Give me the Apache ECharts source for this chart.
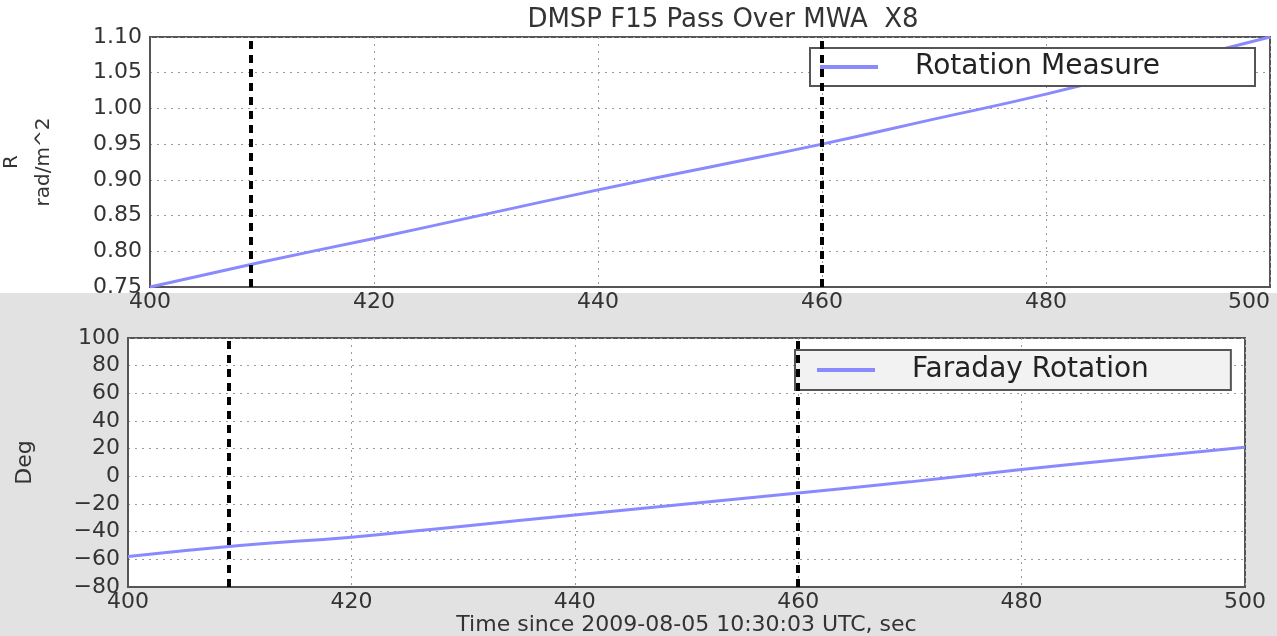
<!DOCTYPE html>
<html>
<head>
<meta charset="utf-8">
<script src="https://cdn.jsdelivr.net/npm/echarts@6/dist/echarts.min.js"></script>
<style>
html,body{margin:0;padding:0;background:#fff;}
#c{width:1277px;height:636px;}
</style>
</head>
<body>
<div id="c"></div>
<script>
// Data
const times = [400, 410, 420, 430, 440, 450, 460, 470, 480, 490, 500];
const rotationMeasure = [0.75, 0.785, 0.818, 0.852, 0.886, 0.918, 0.95, 0.985, 1.02, 1.06, 1.10];
const faradayRotation = [-58, -50, -44, -36, -28, -20, -12, -4, 5, 13, 21];
const eventTimes = [409, 460];
const xTicks = [400, 420, 440, 460, 480, 500];
const rmTicks = [0.75, 0.80, 0.85, 0.90, 0.95, 1.00, 1.05, 1.10];
const degTicks = [-80, -60, -40, -20, 0, 20, 40, 60, 80, 100];

const FONT = 'DejaVu Sans';
const LINE = '#8a8aff';
const chart = echarts.init(document.getElementById('c'), null, {renderer: 'canvas'});

const pair = (xs, ys) => xs.map((x, i) => [x, ys[i]]);
const minus = v => String(v).replace('-', '\u2212');

const gridLine = {show: true, lineStyle: {color: '#9a9a9a', type: [2, 5], width: 1}};
const axisLbl = {color: '#333', fontFamily: FONT, fontSize: 22};

function xAxisDef(gi, name, alignMax) {
  return {
    type: 'value', gridIndex: gi,
    min: xTicks[0], max: xTicks[xTicks.length - 1], interval: xTicks[1] - xTicks[0],
    axisLine: {show: true, onZero: false, lineStyle: {color: '#555', width: 2}},
    axisTick: {show: false},
    axisLabel: Object.assign({margin: 4, alignMaxLabel: alignMax || null}, axisLbl),
    splitLine: gridLine,
    name: name || '', nameLocation: 'middle', nameGap: 27,
    nameTextStyle: {color: '#333', fontFamily: FONT, fontSize: 22}
  };
}

const markLines = {
  silent: true, symbol: 'none', label: {show: false},
  lineStyle: {color: '#000', type: [8, 6], width: 4},
  data: eventTimes.map(t => ({xAxis: t}))
};

const legendCommon = {
  borderColor: '#555', borderWidth: 2, icon: 'rect',
  itemWidth: 58, itemHeight: 4, itemGap: 10,
  textStyle: {fontFamily: FONT, fontSize: 28, color: '#222', padding: [0, 0, 0, 32]}
};

chart.setOption({
  backgroundColor: '#fff',
  animation: false,
  graphic: [{
    type: 'rect', z: -10, silent: true,
    shape: {x: 0, y: 293, width: 1277, height: 343},
    style: {fill: '#e2e2e2'}
  }],
  title: {
    text: 'DMSP F15 Pass Over MWA  X8',
    left: 718, top: 2, textAlign: 'center',
    textStyle: {fontFamily: FONT, fontSize: 26, fontWeight: 'normal', color: '#333'}
  },
  grid: [
    {left: 150, right: 7, top: 37, height: 250, show: true, backgroundColor: '#fff',
     borderColor: '#555', borderWidth: 2, outerBoundsMode: 'none', containLabel: false},
    {left: 128, right: 32, top: 338, height: 249, show: true, backgroundColor: '#fff',
     borderColor: '#555', borderWidth: 2, outerBoundsMode: 'none', containLabel: false}
  ],
  legend: [
    Object.assign({}, legendCommon, {
      data: ['Rotation Measure'], left: 810, top: 48,
      backgroundColor: '#fff', padding: [5, 95, 5, 10]
    }),
    Object.assign({}, legendCommon, {
      data: ['Faraday Rotation'], left: 795, top: 350,
      backgroundColor: '#f2f2f2', padding: [6, 82, 6, 22]
    })
  ],
  xAxis: [xAxisDef(0, '', 'right'), xAxisDef(1, 'Time since 2009-08-05 10:30:03 UTC, sec')],
  yAxis: [
    {
      type: 'value', gridIndex: 0,
      min: rmTicks[0], max: rmTicks[rmTicks.length - 1], interval: 0.05,
      axisLine: {show: true, lineStyle: {color: '#555', width: 2}},
      axisTick: {show: false},
      axisLabel: Object.assign({margin: 8, formatter: v => v.toFixed(2)}, axisLbl),
      splitLine: gridLine,
      name: 'R\nrad/m^2', nameLocation: 'middle', nameGap: 90, nameRotate: 90,
      nameTextStyle: {color: '#333', fontFamily: FONT, fontSize: 20, lineHeight: 32}
    },
    {
      type: 'value', gridIndex: 1,
      min: degTicks[0], max: degTicks[degTicks.length - 1], interval: 20,
      axisLine: {show: true, lineStyle: {color: '#555', width: 2}},
      axisTick: {show: false},
      axisLabel: Object.assign({margin: 8, formatter: minus}, axisLbl),
      splitLine: gridLine,
      name: 'Deg', nameLocation: 'middle', nameGap: 92, nameRotate: 90,
      nameTextStyle: {color: '#333', fontFamily: FONT, fontSize: 22}
    }
  ],
  series: [
    {
      name: 'Rotation Measure', type: 'line', xAxisIndex: 0, yAxisIndex: 0,
      data: pair(times, rotationMeasure), showSymbol: false, smooth: true,
      lineStyle: {color: LINE, width: 3}, itemStyle: {color: LINE},
      markLine: markLines
    },
    {
      name: 'Faraday Rotation', type: 'line', xAxisIndex: 1, yAxisIndex: 1,
      data: pair(times, faradayRotation), showSymbol: false, smooth: true,
      lineStyle: {color: LINE, width: 3}, itemStyle: {color: LINE},
      markLine: markLines
    }
  ]
});
</script>
</body>
</html>
